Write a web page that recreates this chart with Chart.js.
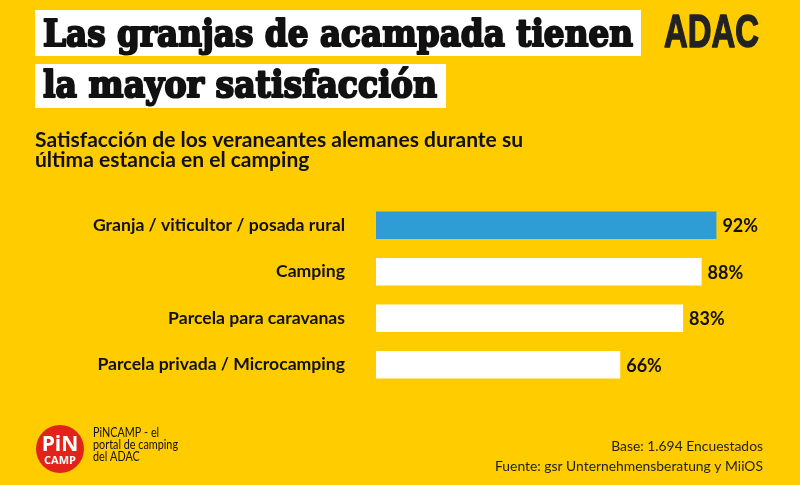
<!DOCTYPE html>
<html>
<head>
<meta charset="utf-8">
<script src="https://cdn.jsdelivr.net/npm/chart.js@4.4.1/dist/chart.umd.min.js"></script>
<style>
  html, body { margin: 0; padding: 0; background: #ffcc00; }
  #wrap { width: 800px; height: 485px; }
</style>
</head>
<body>
<div id="wrap"><canvas id="barChart"></canvas></div>
<script>
  const categories = [
    'Granja / viticultor / posada rural',
    'Camping',
    'Parcela para caravanas',
    'Parcela privada / Microcamping'
  ];
  const satisfaction = [92, 88, 83, 66];
  const barColors = ['#2f9cd6', '#ffffff', '#ffffff', '#ffffff'];

  const titleLines = ['Las granjas de acampada tienen', 'la mayor satisfacción'];
  const subtitleLines = ['Satisfacción de los veraneantes alemanes durante su', 'última estancia en el camping'];
  const pincampLines = ['PiNCAMP - el', 'portal de camping', 'del ADAC'];
  const sourceLines = ['Base: 1.694 Encuestados', 'Fuente: gsr Unternehmensberatung y MiiOS'];

  // draw text squeezed/stretched to a given width, optional stroke to make it heavier
  function fitText(c, text, x, y, font, width, align, heavy) {
    c.save();
    c.font = font;
    const w = c.measureText(text).width;
    const sx = width / w;
    c.translate(x, y);
    c.scale(sx, 1);
    c.textAlign = align || 'left';
    if (heavy) {
      c.lineWidth = heavy;
      c.lineJoin = 'round';
      c.strokeStyle = c.fillStyle;
      c.strokeText(text, 0, 0);
    }
    c.fillText(text, 0, 0);
    c.restore();
    return sx;
  }
  function scaledText(c, text, x, y, font, sx, align) {
    c.save();
    c.font = font;
    c.translate(x, y);
    c.scale(sx, 1);
    c.textAlign = align || 'left';
    c.fillText(text, 0, 0);
    c.restore();
  }

  const decor = {
    id: 'decor',
    beforeDraw(chart) {
      const c = chart.ctx;
      c.save();
      c.fillStyle = '#ffcc00';
      c.fillRect(0, 0, chart.width, chart.height);
      c.restore();
    },
    afterDraw(chart) {
      const c = chart.ctx;
      c.save();
      c.textBaseline = 'alphabetic';

      // title boxes
      c.fillStyle = '#ffffff';
      c.fillRect(35, 10, 606, 46);
      c.fillRect(35, 64, 411, 44);
      c.fillStyle = '#111111';
      const titleFont = 'bold 37px "DejaVu Serif"';
      fitText(c, titleLines[0], 43, 46, titleFont, 590, 'left', 2.2);
      fitText(c, titleLines[1], 43, 97, titleFont, 394, 'left', 2.2);

      // ADAC logo
      c.fillStyle = '#222222';
      fitText(c, 'ADAC', 664, 47, 'bold 46px "Liberation Sans"', 95, 'left', 1.5);

      // subtitle
      c.fillStyle = '#111111';
      const subFont = 'bold 21px Lato';
      const ss = fitText(c, subtitleLines[0], 35, 147, subFont, 488);
      scaledText(c, subtitleLines[1], 35, 167, subFont, ss);

      // PiNCAMP logo
      c.fillStyle = '#e2231a';
      c.beginPath();
      c.arc(60, 449, 24, 0, Math.PI * 2);
      c.fill();
      c.fillStyle = '#ffffff';
      c.textAlign = 'center';
      c.font = 'bold 21px "Open Sans"';
      c.fillText('PiN', 60, 451);
      c.font = 'bold 11px "Open Sans"';
      c.fillText('CAMP', 60, 464);
      c.textAlign = 'left';

      c.fillStyle = '#111111';
      const pf = '13px Lato';
      const ps = fitText(c, pincampLines[1], 93, 449, pf, 85);
      scaledText(c, pincampLines[0], 93, 437, pf, ps);
      scaledText(c, pincampLines[2], 93, 461, pf, ps);

      // source
      c.fillStyle = '#222222';
      const sf = '14px Lato';
      const s2 = fitText(c, sourceLines[1], 763, 471, sf, 268, 'right');
      scaledText(c, sourceLines[0], 763, 451, sf, s2, 'right');

      c.restore();
    }
  };

  const valueLabels = {
    id: 'valueLabels',
    afterDatasetsDraw(chart) {
      const c = chart.ctx;
      const meta = chart.getDatasetMeta(0);
      c.save();
      c.fillStyle = '#111111';
      c.font = 'bold 18px Lato';
      c.textAlign = 'left';
      c.textBaseline = 'middle';
      meta.data.forEach((bar, i) => {
        c.fillText(satisfaction[i] + '%', bar.x + 6, bar.y + 1);
      });
      c.restore();
    }
  };

  const ctx = document.getElementById('barChart');

  new Chart(ctx, {
    type: 'bar',
    data: {
      labels: categories,
      datasets: [{
        label: 'Satisfacción',
        data: satisfaction,
        backgroundColor: barColors,
        borderColor: barColors,
        borderWidth: 0,
        categoryPercentage: 1,
        barPercentage: 0.59
      }]
    },
    options: {
      indexAxis: 'y',
      responsive: true,
      maintainAspectRatio: false,
      animation: false,
      layout: { padding: { top: 202, bottom: 97, left: 0, right: 54 } },
      plugins: {
        legend: { display: false },
        tooltip: { enabled: false }
      },
      scales: {
        x: {
          display: false,
          min: 0,
          max: 100
        },
        y: {
          afterFit(scale) { scale.width = 376; },
          border: { display: false },
          grid: { display: false, drawTicks: false },
          ticks: {
            padding: 31,
            color: '#111111',
            font: { family: 'Lato', weight: 'bold', size: 17.6 }
          }
        }
      }
    },
    plugins: [decor, valueLabels]
  });
</script>
</body>
</html>
